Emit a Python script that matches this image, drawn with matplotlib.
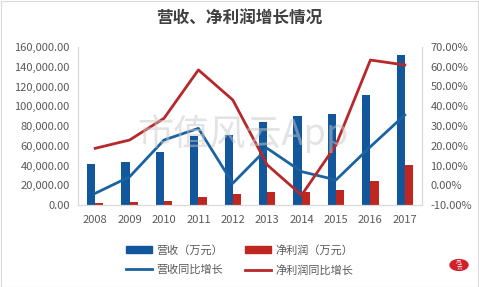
import matplotlib
matplotlib.use("Agg")
import matplotlib.pyplot as plt
import numpy as np
from matplotlib.patches import Rectangle, Circle
from matplotlib.lines import Line2D
from matplotlib.patches import Patch

plt.rcParams['font.family'] = ['Noto Sans CJK SC', 'DejaVu Sans']

years = ['2008', '2009', '2010', '2011', '2012', '2013', '2014', '2015', '2016', '2017']
revenue = [41500, 43500, 53700, 69900, 70900, 84400, 90100, 92200, 111400, 151900]
profit = [2200, 3000, 4000, 8400, 11100, 13200, 12800, 15200, 24600, 40500]
revenue_growth = [-4.1, 4.3, 22.9, 28.8, 1.0, 18.7, 6.9, 2.7, 19.5, 35.6]
profit_growth = [18.7, 22.9, 33.9, 58.4, 43.2, 10.3, -5.0, 20.4, 63.4, 60.9]

blue_bar = '#12579B'
red_bar = '#C0261F'
blue_line = '#1A62A0'
red_line = '#B8282A'
txt = '#595959'

W, H = 479, 287
fig = plt.figure(figsize=(W / 100, H / 100), dpi=100)
fig.patch.set_facecolor('white')
fig.add_artist(Rectangle((0.5 / W, 0.5 / H), 1 - 1.5 / W, 1 - 1.5 / H, transform=fig.transFigure,
                         fill=False, edgecolor='#D9D9D9', linewidth=0.8))

ax = fig.add_axes([78 / W, 1 - 205 / H, (422 - 78) / W, (205 - 47) / H])
x = np.arange(len(years))
bw = 0.24
ax.bar(x - bw / 2, revenue, width=bw, color=blue_bar, zorder=2)
ax.bar(x + bw / 2, profit, width=bw, color=red_bar, zorder=2)
ax.set_ylim(0, 160000)
ax.set_xlim(-0.5, len(years) - 0.5)
ax.set_yticks(np.arange(0, 160001, 20000))
ax.set_yticklabels([f'{v:,.2f}' for v in np.arange(0, 160001, 20000)])
ax.set_xticks(x)
ax.set_xticklabels(years)

ax2 = ax.twinx()
ax2.plot(x, revenue_growth, color=blue_line, linewidth=2.0, zorder=3)
ax2.plot(x, profit_growth, color=red_line, linewidth=2.0, zorder=3)
ax2.set_ylim(-10, 70)
ax2.set_yticks(np.arange(-10, 71, 10))
ax2.set_yticklabels([f'{v:.2f}%' for v in np.arange(-10, 71, 10)])

for a in (ax, ax2):
    a.spines['top'].set_visible(False)
    for s in ('left', 'right', 'bottom'):
        a.spines[s].set_color('#D9D9D9')
        a.spines[s].set_linewidth(0.8)
    a.tick_params(axis='both', length=0, labelsize=8, labelcolor=txt, pad=6)
ax.tick_params(axis='x', pad=7)

fig.text(0.5, 1 - 19 / H, '营收、净利润增长情况', ha='center', va='center', fontsize=12,
         fontweight='bold', color='#404040')

# watermark
fig.text(243 / W, 1 - 134 / H, '市值风云App', ha='center', va='center', fontsize=26,
         color='#C8C8C8', alpha=0.5, zorder=10)

handles = [Patch(color=blue_bar), Line2D([], [], color=blue_line, linewidth=2.0),
           Patch(color=red_bar), Line2D([], [], color=red_line, linewidth=2.0)]
labels = ['营收（万元）', '营收同比增长', '净利润（万元）', '净利润同比增长']
leg = fig.legend(handles, labels, loc='center', bbox_to_anchor=(0.5, 1 - 260 / H), ncol=2,
                 frameon=False, fontsize=8, labelcolor=txt, handlelength=2.3, handleheight=0.5,
                 columnspacing=2.0, handletextpad=0.4, labelspacing=0.8)

# logo
fig.add_artist(Circle((459 / W, 1 - 265 / H), 9 / W, transform=fig.transFigure, color='#D0202A'))
fig.text(459 / W, 1 - 265 / H, '风\n云', ha='center', va='center', fontsize=4, color='white',
         linespacing=0.9)

fig.savefig('out.png', dpi=100, facecolor='white')
